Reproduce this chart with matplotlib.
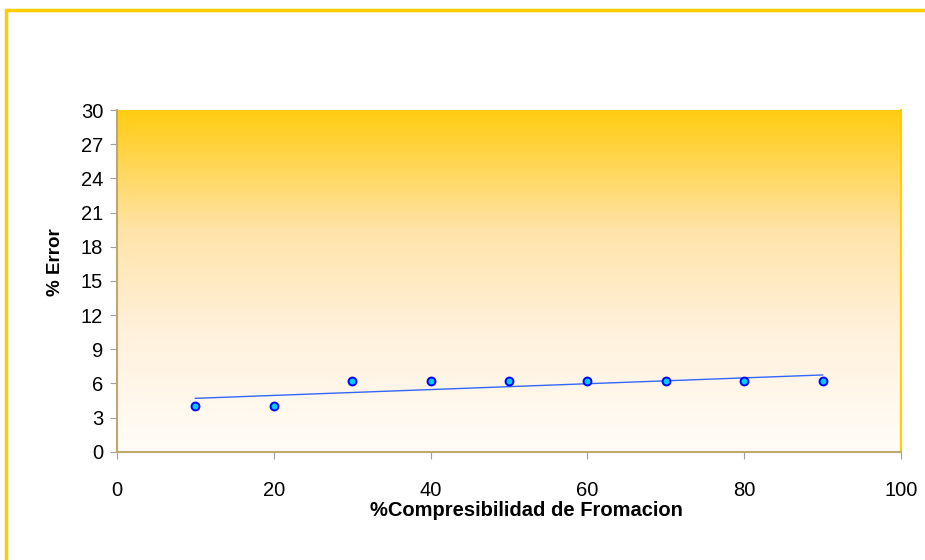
import matplotlib.pyplot as plt
import numpy as np
from matplotlib.colors import LinearSegmentedColormap
from matplotlib.patches import Rectangle

# datos del grafico
compresibilidad = [10, 20, 30, 40, 50, 60, 70, 80, 90]
error = [4.0, 4.0, 6.2, 6.2, 6.2, 6.2, 6.2, 6.2, 6.2]
yticks = list(range(0, 31, 3))
xticks = [0, 20, 40, 60, 80, 100]

plt.rcParams['font.family'] = ['Liberation Sans', 'DejaVu Sans']

W, H = 925, 560
fig = plt.figure(figsize=(W / 100, H / 100), dpi=100)
ax = fig.add_axes([117 / W, 1 - 451.7 / H, (901 - 117) / W, (451.7 - 110) / H])

# marco amarillo exterior (se sale por la derecha y por abajo)
fig.patches.append(Rectangle((5.5 / W, -0.2), 1.2, 1.2 - 10 / H,
                             transform=fig.transFigure, fill=False,
                             edgecolor='#FFCC00', linewidth=2.5))

# fondo degradado del area de grafico
cmap = LinearSegmentedColormap.from_list(
    'fondo', [(0, '#FFFDF8'), (0.35, '#FFF1DC'), (0.65, '#FFE3A8'), (1, '#FFCC11')])
grad = np.linspace(0, 1, 256).reshape(-1, 1)
ax.imshow(grad, cmap=cmap, aspect='auto', origin='lower',
          extent=[0, 100, 0, 30], zorder=0)

# linea de tendencia lineal
m, b = np.polyfit(compresibilidad, error, 1)
xt = np.array([compresibilidad[0], compresibilidad[-1]])
ax.plot(xt, m * xt + b, color='#3366FF', linewidth=1, zorder=2)

ax.scatter(compresibilidad, error, s=32, facecolor='#00CCFF', edgecolor='#0000FF',
           linewidth=1.4, zorder=3)

ax.set_xlim(0, 100)
ax.set_ylim(0, 30)
ax.set_xticks(xticks)
ax.set_yticks(yticks)
ax.tick_params(axis='both', direction='out', length=5, color='#A0A0A0',
               labelsize=14.5, pad=5)
ax.tick_params(axis='x', pad=16)

for s in ['left', 'bottom']:
    ax.spines[s].set_color('#BFA86C')
    ax.spines[s].set_linewidth(1.5)
ax.spines['top'].set_visible(False)
ax.spines['right'].set_color('#FFCC00')
ax.spines['right'].set_linewidth(1.5)

ax.set_xlabel('%Compresibilidad de Fromacion', fontsize=14.5, fontweight='bold')
ax.xaxis.set_label_coords((526 - 117) / 784, (451.7 - 510) / 341.7)
ax.xaxis.label.set_va('center')
ax.set_ylabel('% Error', fontsize=13.5, fontweight='bold')
ax.yaxis.set_label_coords((55 - 117) / 784, (451.7 - 262) / 341.7)
ax.yaxis.label.set_va('center')

fig.savefig('out.png', dpi=100)
